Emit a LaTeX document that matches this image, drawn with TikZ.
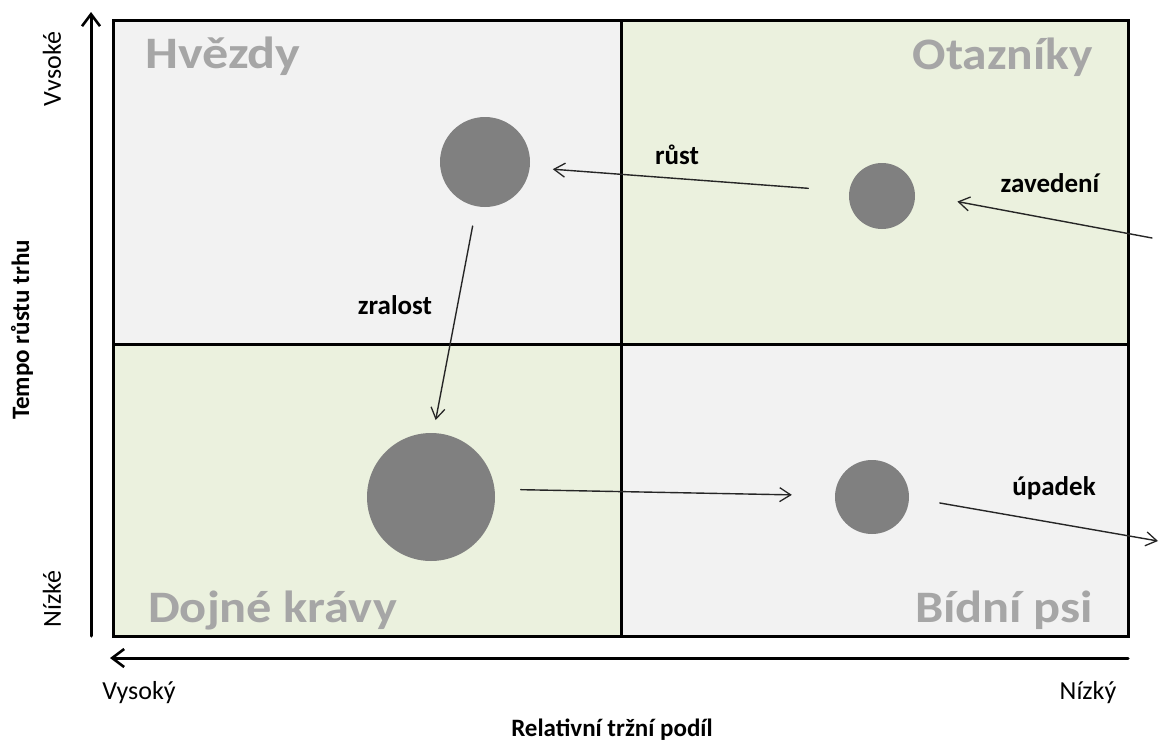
\documentclass[tikz,border=0pt]{standalone}
\usepackage{fontspec}
\setmainfont{Carlito}
\usetikzlibrary{arrows.meta}
\definecolor{quadgray}{HTML}{F2F2F2}
\definecolor{quadgreen}{HTML}{EBF1DE}
\definecolor{bubblefill}{HTML}{808080}
\definecolor{titlegray}{HTML}{A6A6A6}
\newcommand{\widetitle}[1]{\scalebox{1.12}[1]{#1}}
\begin{document}
\begin{tikzpicture}[x=1pt,y=-1pt,
  bubble/.style={circle,fill=bubblefill,inner sep=0pt,minimum size=#1},
  title/.style={font=\fontsize{45}{45}\selectfont\bfseries,text=titlegray,inner sep=0pt},
  flow/.style={-{Straight Barb[length=11pt,width=14pt,line width=1.3pt]},line width=1.4pt,draw=black!85,line cap=round},
  lbl/.style={font=\fontsize{27}{27}\selectfont\bfseries,inner sep=0pt},
  axisline/.style={line width=3pt,-{Straight Barb[length=12pt,width=18pt,line width=2.6pt]},line cap=round},
  ticklbl/.style={font=\fontsize{26}{26}\selectfont,inner sep=0pt},
  axtitle/.style={font=\fontsize{25}{25}\selectfont\bfseries,inner sep=0pt},
  frame/.style={draw=black,line width=3pt}
]
\useasboundingbox (0,0) rectangle (1160,744);

% quadrant backgrounds
\fill[quadgray]  (113,20)  rectangle (621,344);
\fill[quadgreen] (621,20)  rectangle (1128,344);
\fill[quadgreen] (113,344) rectangle (621,636);
\fill[quadgray]  (621,344) rectangle (1128,636);
\draw[frame] (113,20) rectangle (1128,636);
\draw[frame] (621,20) -- (621,636);
\draw[frame] (113,344) -- (1128,344);

% quadrant titles
\node[title,anchor=base west] (tstar) at (145,68) {\scalebox{1.16}[1]{Hvězdy}};
\node[title,anchor=base east] (tquest) at (1093,69) {\scalebox{1.1}[1]{Otazníky}};
\node[title,anchor=base west] (tcow) at (148,622) {\widetitle{Dojné krávy}};
\node[title,anchor=base east] (tdog) at (1093,622) {\widetitle{Bídní psi}};

% axes
\coordinate (ybot) at (91,636);
\coordinate (ytop) at (91,12);
\coordinate (xright) at (1128,658);
\coordinate (xleft) at (110,658);
\draw[axisline] (ybot) -- (ytop);
\draw[axisline] (xright) -- (xleft);

\node[ticklbl,rotate=90] (yhigh) at (52,69) {Vvsoké};
\node[ticklbl,rotate=90] (ylow) at (52,599) {Nízké};
\node[axtitle,rotate=90] (ytitle) at (22,330) {Tempo růstu trhu};
\node[ticklbl] (xhigh) at (139,693) {Vysoký};
\node[ticklbl] (xlow) at (1088,693) {Nízký};
\node[axtitle] (xtitle) at (612,730) {Relativní tržní podíl};

% bubbles
\node[bubble=90pt]  (star)  at (485,162) {};
\node[bubble=66pt]  (quest) at (882,196) {};
\node[bubble=128pt] (cow)   at (431,497) {};
\node[bubble=74pt]  (dog)   at (872,497) {};

% life-cycle flows
\coordinate (entry) at (1152,238);
\coordinate (exit)  at (1158,541);
\draw[flow,shorten >=43pt] (entry) -- (quest.4);
\draw[flow,shorten <=41pt,shorten >=23pt] (quest.172) -- (star.-7);
\draw[flow,shorten <=20pt,shorten >=13pt] (star.-101) -- (cow.88);
\draw[flow,shorten <=26pt,shorten >=43pt] (cow.7) -- (dog.178);
\draw[flow,shorten <=31pt] (dog.-1) -- (exit);

\node[lbl] (lentry) at (1050,183) {zavedení};
\node[lbl] (lgrow)  at (677,155) {růst};
\node[lbl] (lmat)   at (395,305) {zralost};
\node[lbl] (ldecl)  at (1054,488) {úpadek};
\end{tikzpicture}
\end{document}
